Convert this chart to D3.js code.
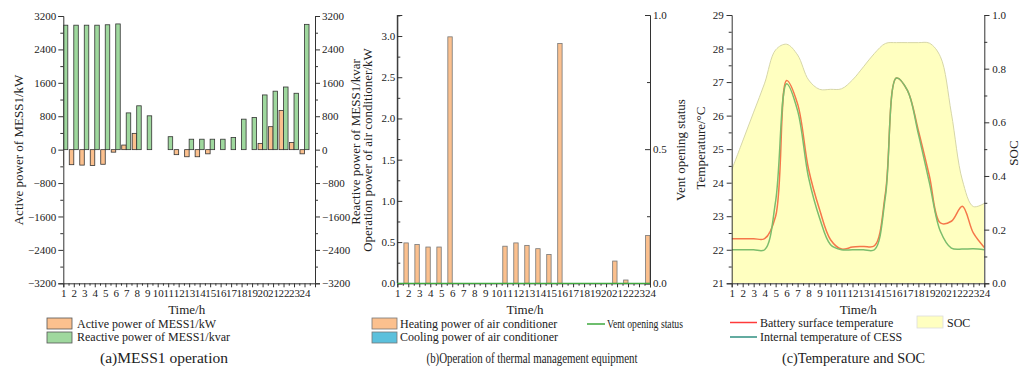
<!DOCTYPE html>
<html><head><meta charset="utf-8">
<script src="https://cdn.jsdelivr.net/npm/d3@7"></script>
<style>
body{margin:0;background:#fff;}
svg{display:block;font-family:"Liberation Serif","Times New Roman",serif;}
.axis path,.axis line{stroke:#333;}
.axis text{fill:#222;font-size:11px;font-family:"Liberation Serif",serif;}
</style></head><body>
<svg id="c" width="1022" height="369"></svg>
<script>
// ---------------- data ----------------
const hours = [1,2,3,4,5,6,7,8,9,10,11,12,13,14,15,16,17,18,19,20,21,22,23,24];
// (a) MESS1 operation
const activePower = [-370,-360,-370,-380,-350,-60,110,390,0,0,0,-120,-170,-170,-100,0,0,0,0,150,550,940,170,-100];
const reactivePower = [2980,2980,2980,2980,2990,3010,880,1050,810,0,310,0,250,250,250,250,290,730,770,1310,1400,1500,1350,3000];
const ticksA = [-3200,-2400,-1600,-800,0,800,1600,2400,3200];
// (b) thermal management equipment
const heatingPower = [0.5,0.49,0.47,0.44,0.44,2.99,0,0,0,0,0.45,0.49,0.46,0.42,0.35,2.91,0,0,0,0,0.27,0.04,0,0.58];
const coolingPower = [0,0,0,0,0,0,0,0,0,0,0,0,0,0,0,0,0,0,0,0,0,0,0,0];
const ventStatus = [0,0,0,0,0,0,0,0,0,0,0,0,0,0,0,0,0,0,0,0,0,0,0,0];
const ticksBL = [0,0.5,1.0,1.5,2.0,2.5,3.0];
const ticksBR = [0,0.5,1.0];
// (c) temperature and SOC
const surfaceTemp = [22.33,22.33,22.33,22.33,23.0,27.05,26.35,24.4,23.2,22.3,22.02,22.08,22.1,22.12,23.7,27.12,26.75,25.55,24.2,22.8,22.85,23.3,22.5,22.07];
const internalTemp = [22.0,22.0,22.0,22.0,23.45,26.95,26.15,24.15,22.95,22.15,22.0,22.0,22.0,22.0,23.6,27.12,26.75,25.45,24.0,22.55,22.05,22.02,22.03,22.0];
const soc = [0.422,0.530,0.638,0.746,0.87,0.891,0.851,0.758,0.723,0.723,0.725,0.758,0.807,0.857,0.894,0.897,0.897,0.897,0.895,0.845,0.634,0.385,0.286,0.298];
const ticksCL = [21,22,23,24,25,26,27,28,29];
const ticksCR = [0,0.2,0.4,0.6,0.8,1.0];

// ---------------- helpers ----------------
const svg = d3.select("#c");
const C = {orange:"#fbc08e", green:"#9fd89e", blue:"#5bc0dc", yellow:"#ffffc0",
  surf:"#f5774a", intern:"#7cbd6c", legRed:"#ff3a3a", legTeal:"#2f8f80", vent:"#3ea83e"};

function mid(arr){const r=[];for(let i=0;i<arr.length-1;i++)r.push((arr[i]+arr[i+1])/2);return r;}
function drawAxis(g, axisFn, scale, major, minor, size, fmt, pad){
  g.append("g").attr("class","axis").call(axisFn(scale).tickValues(minor).tickSize(size*0.6).tickFormat(""))
    .call(s=>s.select(".domain").remove());
  g.append("g").attr("class","axis").call(axisFn(scale).tickValues(major).tickSize(size).tickPadding(pad).tickFormat(fmt));
}
function xAxis(g, x, y0){
  const gg = g.append("g").attr("transform",`translate(0,${y0})`);
  drawAxis(gg, d3.axisBottom, x, hours, mid(hours.concat([25])).filter(v=>v<=x.domain()[1]), 4, d3.format("d"), 2);
}
function vText(x, y, txt, size){
  svg.append("text").attr("transform",`translate(${x},${y}) rotate(-90)`).attr("text-anchor","middle")
    .attr("dy","0.35em").attr("font-size",size).attr("fill","#222").text(txt);
}
function hText(x, y, txt, size, anchor, len){
  const t = svg.append("text").attr("x",x).attr("y",y).attr("text-anchor",anchor||"start")
    .attr("font-size",size).attr("fill","#222").text(txt);
  if(len) t.attr("textLength",len).attr("lengthAdjust","spacingAndGlyphs");
  return t;
}
const defs = svg.append("defs");
function clip(id,x0,x1,y0,y1){defs.append("clipPath").attr("id",id).append("rect").attr("x",x0).attr("y",y0).attr("width",x1-x0).attr("height",y1-y0);}

// ---------------- panel (a) ----------------
{
  const x = d3.scaleLinear().domain([1,25]).range([63.3,315]);
  const y = d3.scaleLinear().domain([-3200,3200]).range([283.3,16]);
  clip("ca",63.3,315,10,283.3);
  const bw = (x(2)-x(1))*0.43;
  const g = svg.append("g").attr("clip-path","url(#ca)");
  g.selectAll(".ap").data(hours).join("rect")
    .attr("x",(d)=>x(d)-bw).attr("width",bw)
    .attr("y",(d,i)=>y(Math.max(0,activePower[i]))).attr("height",(d,i)=>Math.abs(y(activePower[i])-y(0)))
    .attr("fill",C.orange).attr("stroke","#333").attr("stroke-width",0.8)
    .style("display",(d,i)=>activePower[i]===0?"none":null);
  g.selectAll(".rp").data(hours).join("rect")
    .attr("x",(d)=>x(d)).attr("width",bw)
    .attr("y",(d,i)=>y(Math.max(0,reactivePower[i]))).attr("height",(d,i)=>Math.abs(y(reactivePower[i])-y(0)))
    .attr("fill",C.green).attr("stroke","#333").attr("stroke-width",0.8)
    .style("display",(d,i)=>reactivePower[i]===0?"none":null);
  const minor = mid(ticksA);
  const gl = svg.append("g").attr("transform",`translate(${x(1)},0)`);
  drawAxis(gl, d3.axisLeft, y, ticksA, minor, 5, d3.format("d"), 2);
  const gr = svg.append("g").attr("transform",`translate(${x(25)},0)`);
  drawAxis(gr, d3.axisRight, y, ticksA, minor, 5, d3.format("d"), 2);
  xAxis(svg, x, y(-3200));
  vText(18,150,"Active power of MESS1/kW",13);
  vText(355,142,"Reactive power of MESS1/kvar",13);
  hText(186.7,314,"Time/h",13,"middle");
  svg.append("rect").attr("x",47).attr("y",318).attr("width",25).attr("height",11).attr("fill",C.orange).attr("stroke","#555").attr("stroke-width",0.8);
  svg.append("rect").attr("x",47).attr("y",332).attr("width",25).attr("height",11).attr("fill",C.green).attr("stroke","#555").attr("stroke-width",0.8);
  hText(77,327.5,"Active power of MESS1/kW",12);
  hText(77,341,"Reactive power of MESS1/kvar",12);
  hText(164,362.5,"(a)MESS1 operation",15,"middle",128);
}

// ---------------- panel (b) ----------------
{
  const x = d3.scaleLinear().domain([1,24]).range([397.3,650]);
  const y = d3.scaleLinear().domain([0,3.255]).range([283.3,15]);
  const y2 = d3.scaleLinear().domain([0,1]).range([283.3,15]);
  clip("cb",397.3,650,10,283.3);
  const bw = (x(2)-x(1))*0.4;
  const g = svg.append("g").attr("clip-path","url(#cb)");
  g.selectAll(".hp").data(hours).join("rect")
    .attr("x",d=>x(d)-bw).attr("width",bw)
    .attr("y",(d,i)=>y(heatingPower[i])).attr("height",(d,i)=>y(0)-y(heatingPower[i]))
    .attr("fill",C.orange).attr("stroke","#777").attr("stroke-width",0.8)
    .style("display",(d,i)=>heatingPower[i]===0?"none":null);
  g.selectAll(".cp").data(hours).join("rect")
    .attr("x",d=>x(d)).attr("width",bw)
    .attr("y",(d,i)=>y(coolingPower[i])).attr("height",(d,i)=>y(0)-y(coolingPower[i]))
    .attr("fill",C.blue).attr("stroke","#777").attr("stroke-width",0.8)
    .style("display",(d,i)=>coolingPower[i]===0?"none":null);
  const gl = svg.append("g").attr("transform",`translate(${x(1)},0)`);
  const minorL = [0.25,0.75,1.25,1.75,2.25,2.75,3.25];
  drawAxis(gl, d3.axisLeft, y, ticksBL, minorL, -5, d3.format(".1f"), 2);
  gl.append("line").attr("y1",y(0)).attr("y2",15).attr("stroke","#333");
  const gr = svg.append("g").attr("transform",`translate(${x(24)},0)`);
  drawAxis(gr, d3.axisRight, y2, ticksBR, [0.25,0.75], -5, d3.format(".1f"), 3);
  xAxis(svg, x, y(0));
  svg.append("path").datum(ventStatus)
    .attr("d",d3.line().x((d,i)=>x(hours[i])).y(d=>y2(d)))
    .attr("fill","none").attr("stroke",C.vent).attr("stroke-width",1.2);
  vText(367,150,"Operation power of air conditioner/kW",13);
  vText(680,150,"Vent opening status",13);
  hText(525,314,"Time/h",13,"middle");
  svg.append("rect").attr("x",372).attr("y",318).attr("width",25).attr("height",11).attr("fill",C.orange).attr("stroke","#777").attr("stroke-width",0.8);
  svg.append("rect").attr("x",372).attr("y",332).attr("width",25).attr("height",11).attr("fill",C.blue).attr("stroke","#777").attr("stroke-width",0.8);
  hText(400,327.5,"Heating power of air conditioner",12);
  hText(400,341,"Cooling power of air conditioner",12);
  svg.append("line").attr("x1",587).attr("x2",605).attr("y1",324).attr("y2",324).attr("stroke",C.vent).attr("stroke-width",1.5);
  hText(607,327.5,"Vent opening status",12,"start",76);
  hText(532,362.5,"(b)Operation of thermal management equipment",15,"middle",211);
}

// ---------------- panel (c) ----------------
{
  const x = d3.scaleLinear().domain([1,24]).range([731.7,984.3]);
  const y = d3.scaleLinear().domain([21,29]).range([283.3,15]);
  const y2 = d3.scaleLinear().domain([0,1]).range([283.3,15]);
  clip("cc",731.7,984.3,10,283.3);
  const g = svg.append("g").attr("clip-path","url(#cc)");
  const socCurve = d3.curveCatmullRom.alpha(0.5);
  const tCurve = d3.curveCatmullRom.alpha(0.5);
  g.append("path").datum(soc)
    .attr("d",d3.area().x((d,i)=>x(hours[i])).y0(y2(0)).y1(d=>y2(d)).curve(socCurve))
    .attr("fill",C.yellow).attr("stroke","none");
  g.append("path").datum(soc)
    .attr("d",d3.line().x((d,i)=>x(hours[i])).y(d=>y2(d)).curve(socCurve))
    .attr("fill","none").attr("stroke","#d6d6a8").attr("stroke-width",1);
  g.append("path").datum(surfaceTemp)
    .attr("d",d3.line().x((d,i)=>x(hours[i])).y(d=>y(d)).curve(tCurve))
    .attr("fill","none").attr("stroke",C.surf).attr("stroke-width",1.5);
  g.append("path").datum(internalTemp)
    .attr("d",d3.line().x((d,i)=>x(hours[i])).y(d=>y(d)).curve(tCurve))
    .attr("fill","none").attr("stroke",C.intern).attr("stroke-width",1.5);
  const gl = svg.append("g").attr("transform",`translate(${x(1)},0)`);
  drawAxis(gl, d3.axisLeft, y, ticksCL, mid(ticksCL), 5, d3.format("d"), 3);
  const gr = svg.append("g").attr("transform",`translate(${x(24)},0)`);
  drawAxis(gr, d3.axisRight, y2, ticksCR, mid(ticksCR), 5, d3.format(".1f"), 3);
  xAxis(svg, x, y(21));
  vText(700,148,"Temperature/\u00B0C",13);
  vText(1013,153,"SOC",13);
  hText(858.3,314,"Time/h",13,"middle");
  svg.append("line").attr("x1",730).attr("x2",757).attr("y1",322.5).attr("y2",322.5).attr("stroke",C.legRed).attr("stroke-width",1.5);
  svg.append("line").attr("x1",730).attr("x2",757).attr("y1",337).attr("y2",337).attr("stroke",C.legTeal).attr("stroke-width",1.5);
  hText(760,326.5,"Battery surface temperature",12);
  hText(760,341,"Internal temperature of CESS",12);
  svg.append("rect").attr("x",917).attr("y",316).attr("width",26).attr("height",12).attr("fill",C.yellow).attr("stroke","#ddd").attr("stroke-width",0.8);
  hText(947,326.5,"SOC",12);
  hText(853.5,362.5,"(c)Temperature and SOC",15,"middle",143);
}
</script></body></html>
